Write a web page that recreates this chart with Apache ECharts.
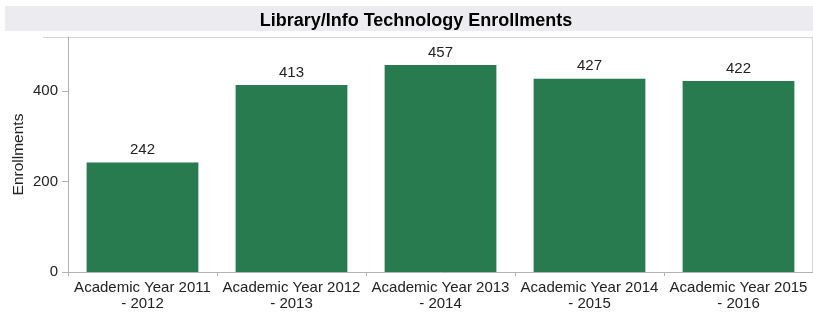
<!DOCTYPE html>
<html>
<head>
<meta charset="utf-8">
<script src="https://cdn.jsdelivr.net/npm/echarts@6/dist/echarts.min.js"></script>
<style>
  html, body { margin: 0; padding: 0; background: #fff; }
  #main { width: 813px; height: 314px; }
</style>
</head>
<body>
<div id="main"></div>
<script>
var years = ['Academic Year 2011\n- 2012', 'Academic Year 2012\n- 2013', 'Academic Year 2013\n- 2014',
    'Academic Year 2014\n- 2015', 'Academic Year 2015\n- 2016'];
var enrollments = [242, 413, 457, 427, 422];
var yTicks = [0, 200, 400];

var chart = echarts.init(document.getElementById('main'));

var option = {
    backgroundColor: '#fff',
    animation: false,
    textStyle: { fontFamily: 'Liberation Sans, Arial, sans-serif' },
    // grey title band + pane border
    graphic: [
        { type: 'rect', shape: { x: 5, y: 6, width: 808, height: 25 }, style: { fill: '#ececf0' }, z: -1 },
        { type: 'line', shape: { x1: 43, y1: 37.5, x2: 813, y2: 37.5 }, style: { stroke: '#d4d4d4', lineWidth: 1 } },
        { type: 'line', shape: { x1: 812.5, y1: 37, x2: 812.5, y2: 272 }, style: { stroke: '#d4d4d4', lineWidth: 1 } }
    ],
    title: {
        text: 'Library/Info Technology Enrollments',
        left: 411,
        textAlign: 'center',
        top: 7,
        textStyle: { fontSize: 18, fontWeight: 'bold', color: '#000', fontFamily: 'Liberation Sans, Arial, sans-serif' }
    },
    grid: { left: 68, right: 0, top: 37, bottom: 42, containLabel: false },
    xAxis: {
        type: 'category',
        data: years,
        axisLine: { lineStyle: { color: '#b0b0b0' } },
        axisTick: { show: true, length: 4, lineStyle: { color: '#b0b0b0' } },
        axisLabel: { color: '#222', fontSize: 15, lineHeight: 16, margin: 8, interval: 0 }
    },
    yAxis: {
        type: 'value',
        min: 0,
        max: 519,
        interval: 200,
        name: 'Enrollments',
        nameLocation: 'middle',
        nameGap: 41,
        nameMoveOverlap: false,
        nameTextStyle: { color: '#222', fontSize: 15.5 },
        axisLine: { show: true, lineStyle: { color: '#b0b0b0' } },
        axisTick: { show: true, length: 6, lineStyle: { color: '#b0b0b0' } },
        axisLabel: {
            color: '#222', fontSize: 15, margin: 10,
            showMaxLabel: false,
            formatter: function (v) { return yTicks.indexOf(v) >= 0 ? String(v) : ''; }
        },
        splitLine: { show: false }
    },
    series: [{
        type: 'bar',
        data: enrollments,
        barCategoryGap: '25%',
        itemStyle: { color: '#277b4f' },
        label: { show: true, position: 'top', distance: 5, color: '#222', fontSize: 15 }
    }]
};

chart.setOption(option);
</script>
</body>
</html>
